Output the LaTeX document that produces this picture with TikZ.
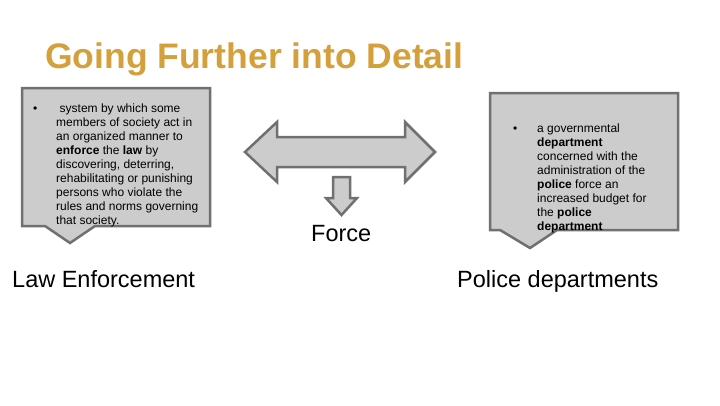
\documentclass[tikz,border=0pt]{standalone}
\usepackage{fontspec}
\setmainfont{Liberation Sans}
\usepackage{xcolor}
\definecolor{titlegold}{RGB}{212,160,60}
\definecolor{boxfill}{RGB}{204,204,204}
\definecolor{boxline}{RGB}{112,112,112}

\begin{document}
\begin{tikzpicture}[x=1pt, y=-1pt,
  shapebox/.style={fill=boxfill, draw=boxline, line width=2.5pt, line join=miter},
  boxtext/.style={anchor=base west, align=left, inner sep=0pt, font=\fontsize{12}{14}\selectfont},
  bigword/.style={anchor=base west, inner sep=0pt, font=\fontsize{23.5}{28}\selectfont}]
  \useasboundingbox (0,0) rectangle (720,405);
  % Title
  \node[anchor=base west, inner sep=0pt, text=titlegold, font=\fontsize{35.5}{42}\selectfont\bfseries]
    (title) at (45,68) {Going Further into Detail};
  % Left callout (base anchor sits on the last line)
  \filldraw[shapebox] (22,88) -- (210,88) -- (210,226) -- (95,226) -- (70,243) -- (45,226) -- (22,226) -- cycle;
  \node[boxtext] (lbullet) at (33,112) {\textbullet};
  \node[boxtext] (ltext) at (56,224) {\hspace*{3.5pt}system by which some\\
    members of society act in\\
    an organized manner to\\
    \textbf{enforce} the \textbf{law} by\\
    discovering, deterring,\\
    rehabilitating or punishing\\
    persons who violate the\\
    rules and norms governing\\
    that society.};
  % Right callout
  \filldraw[shapebox] (490,93) -- (678,93) -- (678,230) -- (557,230) -- (530,248) -- (500,230) -- (490,230) -- cycle;
  \node[boxtext] (rbullet) at (513,132) {\textbullet};
  \node[boxtext] (rtext) at (537,230) {a governmental\\
    \textbf{department}\\
    concerned with the\\
    administration of the\\
    \textbf{police} force an\\
    increased budget for\\
    the \textbf{police}\\
    \textbf{department}};
  % Two-way arrow between the callouts
  \filldraw[shapebox] (245,152) -- (277,122) -- (277,137) -- (405,137) -- (405,122) -- (435,152)
    -- (405,182) -- (405,167) -- (277,167) -- (277,182) -- cycle;
  % Down arrow
  \filldraw[shapebox] (333,177) -- (350,177) -- (350,198) -- (357,198) -- (341.5,215) -- (326,198) -- (333,198) -- cycle;
  % Labels
  \node[bigword] (force) at (311,241) {Force};
  \node[bigword] (lawenf) at (12,287) {Law Enforcement};
  \node[bigword] (policedep) at (457,287) {Police departments};
\end{tikzpicture}
\end{document}
